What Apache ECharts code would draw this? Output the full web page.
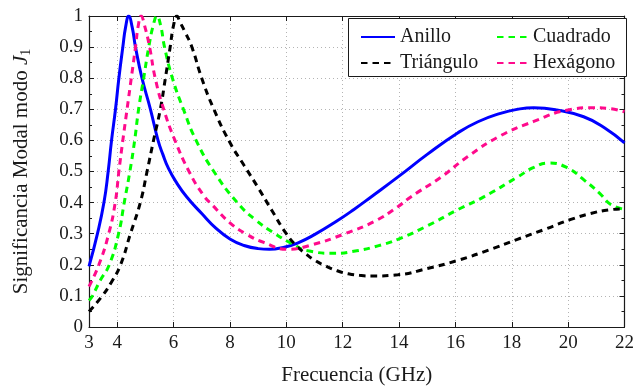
<!DOCTYPE html>
<html>
<head>
<meta charset="utf-8">
<script src="https://cdn.jsdelivr.net/npm/echarts@6/dist/echarts.min.js"></script>
<style>
  html, body { margin: 0; padding: 0; background: #fff; }
  #chart { width: 637px; height: 391px; }
</style>
</head>
<body>
<div id="chart"></div>
<script>
// valores (frecuencia en GHz, significancia modal J1)
var anilloX = [3, 3.3, 3.53, 3.68, 3.8, 3.94, 4.06, 4.2, 4.3, 4.41, 4.53, 4.65, 4.88, 5.18, 5.45, 5.62, 5.82, 6.1, 6.47, 7.0, 7.5, 8.0, 8.5, 9.0, 9.4, 9.9, 10.4, 11.0, 11.78, 12.4, 13.02, 14.0, 15.0, 16.08, 16.8, 17.6, 18.2, 18.78, 19.6, 20.55, 21.3, 22];
var anilloY = [0.195, 0.3, 0.4, 0.5, 0.6, 0.7, 0.8, 0.9, 0.965, 1.0, 0.965, 0.9, 0.8, 0.7, 0.6, 0.555, 0.51, 0.465, 0.418, 0.365, 0.318, 0.283, 0.262, 0.252, 0.25, 0.256, 0.27, 0.297, 0.34, 0.378, 0.419, 0.485, 0.555, 0.624, 0.66, 0.687, 0.7, 0.705, 0.698, 0.676, 0.64, 0.592];

var cuadradoX = [3, 3.12, 3.4, 3.72, 4.05, 4.25, 4.45, 4.62, 4.76, 4.94, 5.12, 5.28, 5.41, 5.54, 5.68, 5.96, 6.35, 6.8, 7.43, 8.26, 8.9, 9.6, 10.2, 10.78, 11.7, 12.5, 13.25, 13.96, 15.0, 16.08, 17.02, 18.2, 18.78, 19.31, 19.95, 20.6, 21.13, 21.5, 22];
var cuadradoY = [0.085, 0.1, 0.15, 0.2, 0.3, 0.4, 0.5, 0.6, 0.7, 0.8, 0.9, 0.97, 1.0, 0.97, 0.9, 0.8, 0.7, 0.6, 0.5, 0.4, 0.345, 0.3, 0.268, 0.245, 0.237, 0.245, 0.261, 0.282, 0.325, 0.377, 0.419, 0.482, 0.513, 0.527, 0.513, 0.47, 0.429, 0.395, 0.378];

var trianguloX = [3, 3.47, 3.8, 4.12, 4.47, 4.82, 5.06, 5.29, 5.53, 5.71, 5.88, 6.0, 6.12, 6.23, 6.4, 6.65, 7.0, 7.43, 8.0, 8.5, 9.0, 9.5, 10.0, 10.35, 10.7, 11.0, 11.4, 11.8, 12.2, 12.6, 13.02, 13.96, 15.0, 16.08, 17.2, 18.2, 19.2, 20.07, 20.8, 21.48, 22];
var trianguloY = [0.05, 0.1, 0.145, 0.2, 0.3, 0.4, 0.5, 0.6, 0.7, 0.8, 0.9, 0.97, 1.0, 0.98, 0.95, 0.9, 0.8, 0.7, 0.593, 0.52, 0.448, 0.373, 0.3, 0.262, 0.235, 0.215, 0.196, 0.181, 0.171, 0.166, 0.164, 0.168, 0.188, 0.214, 0.248, 0.282, 0.315, 0.345, 0.365, 0.377, 0.38];

var hexagonoX = [3, 3.35, 3.7, 3.93, 4.06, 4.2, 4.35, 4.5, 4.65, 4.75, 4.85, 4.97, 5.15, 5.35, 5.65, 6.05, 6.55, 7.05, 7.4, 8.0, 8.56, 9.2, 10.05, 10.9, 12.08, 13.14, 13.96, 14.43, 15.49, 16.44, 17.6, 18.78, 19.95, 20.9, 21.5, 22];
var hexagonoY = [0.13, 0.2, 0.3, 0.4, 0.5, 0.6, 0.7, 0.8, 0.9, 0.97, 1.0, 0.97, 0.9, 0.8, 0.7, 0.6, 0.5, 0.425, 0.39, 0.335, 0.3, 0.272, 0.25, 0.264, 0.3, 0.34, 0.387, 0.419, 0.482, 0.548, 0.615, 0.661, 0.697, 0.705, 0.702, 0.692];

var xTicks = [3, 4, 6, 8, 10, 12, 14, 16, 18, 20, 22];

var fuente = 'Liberation Serif';
var negro = '#1a1a1a';

function pares(xs, ys) {
	var out = [];
	for (var i = 0; i < xs.length; i++) {
		out.push([xs[i], ys[i]]);
	}
	return out;
}

var myChart = echarts.init(document.getElementById('chart'));

var ejeX = function(pos, conTexto) {
	return {
		type: 'value',
		position: pos,
		min: 3,
		max: 22,
		name: conTexto ? 'Frecuencia (GHz)' : '',
		nameLocation: 'middle',
		nameGap: 38,
		nameTextStyle: { fontFamily: fuente, fontSize: 21, color: negro },
		axisLine: { show: true, onZero: false, lineStyle: { color: negro, width: 1.2 } },
		axisTick: { show: true, inside: true, length: 5, customValues: xTicks, lineStyle: { color: negro } },
		axisLabel: { show: conTexto, customValues: xTicks, fontFamily: fuente, fontSize: 19, color: negro, margin: 7 },
		splitLine: { show: conTexto, lineStyle: { color: '#b4b4b4', type: [1, 3], width: 1 } }
	};
};

var ejeY = function(pos, conTexto) {
	return {
		type: 'value',
		position: pos,
		min: 0,
		max: 1,
		interval: 0.1,
		name: conTexto ? 'Significancia Modal modo {i|J}{s|1}' : '',
		nameLocation: 'middle',
		nameGap: 56,
		nameTextStyle: {
			fontFamily: fuente, fontSize: 21, color: negro,
			rich: {
				i: { fontFamily: fuente, fontSize: 21, fontStyle: 'italic', color: negro },
				s: { fontFamily: fuente, fontSize: 14, color: negro, padding: [9, 0, 0, 0] }
			}
		},
		axisLine: { show: true, lineStyle: { color: negro, width: 1.2 } },
		axisTick: { show: true, inside: true, length: 5, lineStyle: { color: negro } },
		minorTick: { show: true, splitNumber: 2, length: 3, lineStyle: { color: negro } },
		axisLabel: { show: conTexto, fontFamily: fuente, fontSize: 19, color: negro, margin: 6 },
		splitLine: { show: conTexto, lineStyle: { color: '#b4b4b4', type: [1, 3], width: 1 } }
	};
};

var serie = function(nombre, xs, ys, color, tipo) {
	return {
		name: nombre,
		type: 'line',
		xAxisIndex: 0,
		yAxisIndex: 0,
		data: pares(xs, ys),
		smooth: 0.5,
		symbol: 'none',
		lineStyle: { color: color, width: 3, type: tipo },
		itemStyle: { color: color }
	};
};

var leyenda = function(nombres, izq, ancho) {
	return {
		data: nombres,
		orient: 'vertical',
		left: izq,
		top: 22,
		itemWidth: ancho,
		itemHeight: 12,
		itemGap: 6,
		itemStyle: { color: 'rgba(0,0,0,0)', borderWidth: 0, opacity: 0 },
		textStyle: { fontFamily: fuente, fontSize: 20, color: negro }
	};
};

var option = {
	animation: false,
	backgroundColor: '#fff',
	grid: { left: 89, right: 9, top: 16, bottom: 58 },
	xAxis: [ejeX('bottom', true), ejeX('top', false)],
	yAxis: [ejeY('left', true), ejeY('right', false)],
	legend: [leyenda(['Anillo', 'Triángulo'], 355, 34), leyenda(['Cuadrado', 'Hexágono'], 491, 31)],
	graphic: [{
		type: 'rect',
		z: 3,
		shape: { x: 348.5, y: 18.5, width: 278, height: 58 },
		style: { fill: '#fff', stroke: negro, lineWidth: 1 }
	}],
	series: [
		serie('Anillo', anilloX, anilloY, '#0000ff', 'solid'),
		serie('Cuadrado', cuadradoX, cuadradoY, '#00ff00', [6.5, 5]),
		serie('Triángulo', trianguloX, trianguloY, '#000000', [6.5, 5]),
		serie('Hexágono', hexagonoX, hexagonoY, '#ff0a8c', [6.5, 5])
	]
};

myChart.setOption(option);
</script>
</body>
</html>
